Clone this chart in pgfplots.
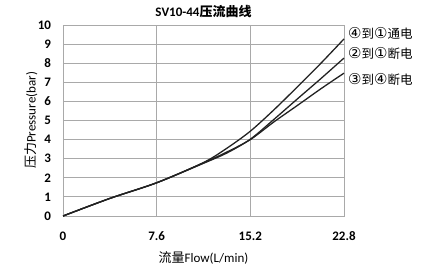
\documentclass[border=0pt]{standalone}
\usepackage{pgfplots}
\pgfplotsset{compat=1.18}
\usepackage{fontspec}
\setmainfont{Carlito}
\newfontfamily\cjk{Noto Sans CJK SC}
\newfontfamily\circfont[Scale=1.2]{DejaVu Sans}
\newcommand{\cn}[1]{{\circfont #1}}
\definecolor{gridgray}{HTML}{A9A9A9}
\definecolor{curve}{HTML}{222222}
\begin{document}
\begin{tikzpicture}[font=\fontsize{13}{15}\selectfont]
\begin{axis}[
  scale only axis, width=281pt, height=191pt,
  xmin=0, xmax=22.8, ymin=0, ymax=10,
  xtick={0,7.6,15.2,22.8}, xticklabels={0,7.6,15.2,22.8},
  ytick={0,1,2,3,4,5,6,7,8,9,10},
  grid=major, major grid style={color=gridgray, line width=0.8pt},
  axis line style={color=gridgray, line width=0.8pt},
  major tick length=0pt,
  /pgf/number format/assume math mode=true,
  tick label style={font=\fontsize{13}{15}\selectfont\bfseries},
  xticklabel style={anchor=center, yshift=-20pt},
  yticklabel style={anchor=east, xshift=-8.5pt},
  title={\textbf{SV10-44}{\cjk\bfseries 压流曲线}},
  title style={at={(axis description cs:0.5,1)}, anchor=center, yshift=7.5pt},
  xlabel={{\cjk 流量}Flow(L/min)},
  xlabel style={at={(axis description cs:0.5,-0.217)}, anchor=center},
  ylabel={{\cjk 压力}Pressure(bar)},
  ylabel style={at={(axis description cs:-0.114,0.5)}, anchor=center, rotate=0},
  clip=false,
]
\addplot[curve, line width=1.3pt, smooth] coordinates {
 (0,0) (3.8,0.92) (7.6,1.74) (11.4,2.8) (13.3,3.55) (15.2,4.44) (17.1,5.55) (19,6.75) (20.9,7.98) (22.8,9.27)};
\addplot[curve, line width=1.3pt, smooth] coordinates {
 (0,0) (3.8,0.92) (7.6,1.74) (11.4,2.76) (13.3,3.3) (15.2,4.02) (17.1,5.05) (19,6.12) (20.9,7.18) (22.8,8.27)};
\addplot[curve, line width=1.3pt, smooth] coordinates {
 (0,0) (3.8,0.92) (7.6,1.74) (11.4,2.78) (13.3,3.35) (15.2,4.0) (17.1,4.92) (19,5.78) (20.9,6.65) (22.8,7.48)};
\node[anchor=west, font=\cjk\fontsize{12.5}{14}\selectfont, inner sep=0pt, xshift=4pt] at (axis cs:22.8,9.56) {\cn{④}到\cn{①}通电};
\node[anchor=west, font=\cjk\fontsize{12.5}{14}\selectfont, inner sep=0pt, xshift=4pt] at (axis cs:22.8,8.52) {\cn{②}到\cn{①}断电};
\node[anchor=west, font=\cjk\fontsize{12.5}{14}\selectfont, inner sep=0pt, xshift=4pt] at (axis cs:22.8,7.14) {\cn{③}到\cn{④}断电};
\end{axis}
\pgfresetboundingbox
\path[use as bounding box] (-63pt,-59pt) rectangle (377pt,216pt);
\end{tikzpicture}
\end{document}
